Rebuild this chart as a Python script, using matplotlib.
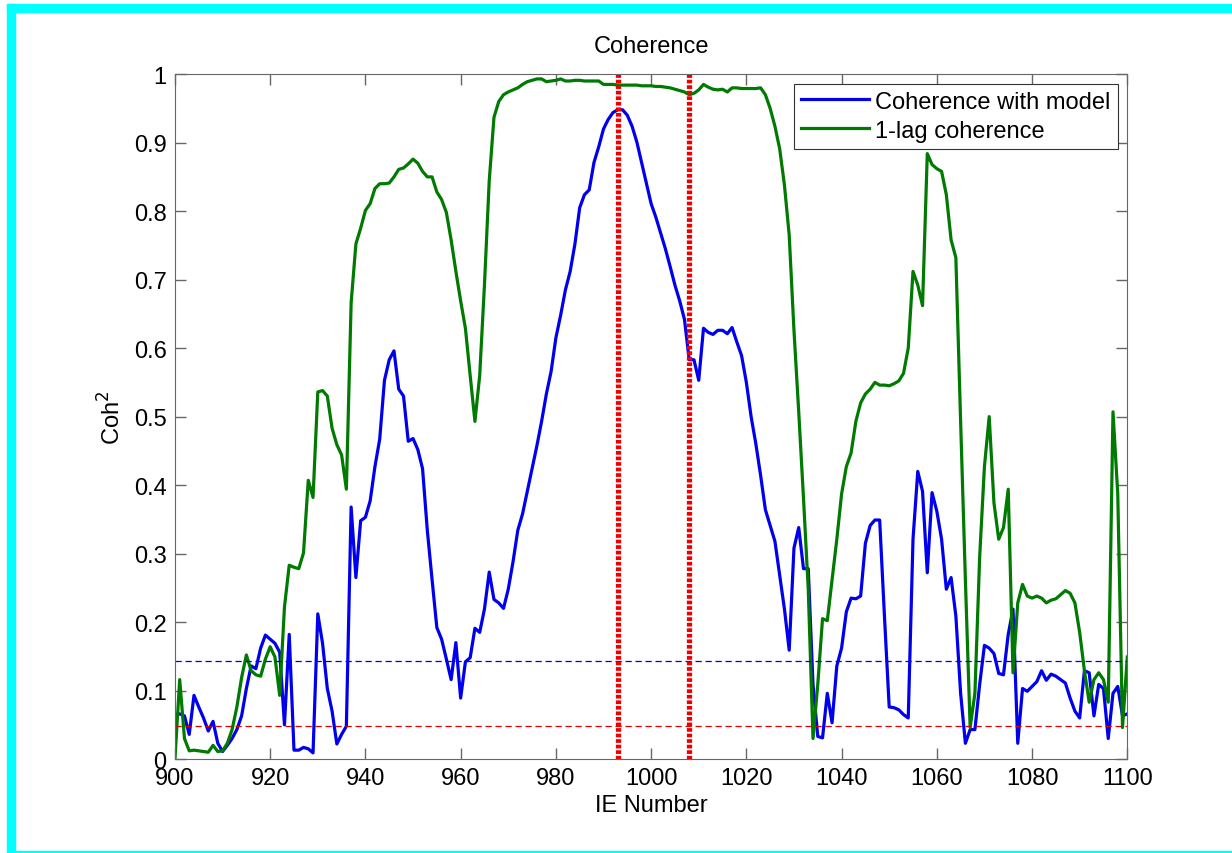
import matplotlib
matplotlib.use("Agg")
import matplotlib.pyplot as plt
from matplotlib.patches import Rectangle

plt.rcParams["font.family"] = ["Liberation Sans", "DejaVu Sans"]

ie_number = list(range(900, 1101))

coh_model = [
    0.065, 0.066, 0.063, 0.036, 0.093, 0.076, 0.060, 0.041, 0.055, 0.023,
    0.011, 0.020, 0.030, 0.043, 0.063, 0.103, 0.136, 0.132, 0.162, 0.181,
    0.175, 0.169, 0.156, 0.050, 0.182, 0.013, 0.013, 0.017, 0.015, 0.009,
    0.212, 0.169, 0.103, 0.070, 0.022, 0.036, 0.048, 0.368, 0.265, 0.348,
    0.353, 0.377, 0.427, 0.467, 0.553, 0.583, 0.596, 0.540, 0.530, 0.464,
    0.468, 0.452, 0.424, 0.334, 0.262, 0.192, 0.175, 0.146, 0.116, 0.170,
    0.089, 0.142, 0.148, 0.191, 0.185, 0.219, 0.273, 0.233, 0.228, 0.220,
    0.248, 0.288, 0.334, 0.358, 0.391, 0.424, 0.457, 0.493, 0.533, 0.566,
    0.615, 0.648, 0.685, 0.712, 0.752, 0.805, 0.824, 0.831, 0.871, 0.894,
    0.920, 0.934, 0.944, 0.948, 0.948, 0.940, 0.924, 0.901, 0.871, 0.841,
    0.811, 0.791, 0.768, 0.745, 0.719, 0.692, 0.669, 0.642, 0.583, 0.583,
    0.553, 0.629, 0.623, 0.620, 0.626, 0.626, 0.621, 0.630, 0.609, 0.589,
    0.550, 0.500, 0.460, 0.414, 0.364, 0.341, 0.318, 0.268, 0.219, 0.159,
    0.308, 0.338, 0.278, 0.278, 0.109, 0.033, 0.031, 0.096, 0.053, 0.136,
    0.162, 0.215, 0.235, 0.234, 0.238, 0.315, 0.341, 0.349, 0.349, 0.209,
    0.076, 0.075, 0.072, 0.065, 0.060, 0.321, 0.420, 0.391, 0.272, 0.389,
    0.362, 0.321, 0.248, 0.265, 0.209, 0.096, 0.023, 0.043, 0.043, 0.109,
    0.166, 0.162, 0.154, 0.125, 0.123, 0.182, 0.219, 0.023, 0.103, 0.099,
    0.106, 0.113, 0.129, 0.115, 0.124, 0.121, 0.116, 0.111, 0.089, 0.070,
    0.060, 0.129, 0.126, 0.063, 0.109, 0.103, 0.030, 0.096, 0.106, 0.063,
    0.066,
]

coh_lag1 = [
    0.000, 0.116, 0.030, 0.012, 0.013, 0.012, 0.011, 0.010, 0.020, 0.011,
    0.012, 0.023, 0.043, 0.076, 0.119, 0.152, 0.129, 0.123, 0.121, 0.146,
    0.164, 0.149, 0.093, 0.222, 0.283, 0.280, 0.278, 0.301, 0.407, 0.382,
    0.536, 0.538, 0.530, 0.483, 0.459, 0.444, 0.394, 0.666, 0.752, 0.775,
    0.801, 0.811, 0.833, 0.840, 0.840, 0.841, 0.850, 0.861, 0.863, 0.869,
    0.876, 0.870, 0.858, 0.850, 0.850, 0.828, 0.817, 0.798, 0.758, 0.712,
    0.669, 0.629, 0.560, 0.493, 0.560, 0.692, 0.844, 0.937, 0.960, 0.970,
    0.974, 0.977, 0.980, 0.985, 0.989, 0.991, 0.993, 0.993, 0.989, 0.990,
    0.991, 0.993, 0.990, 0.990, 0.991, 0.991, 0.990, 0.990, 0.990, 0.990,
    0.985, 0.985, 0.985, 0.984, 0.984, 0.984, 0.984, 0.984, 0.983, 0.983,
    0.983, 0.982, 0.982, 0.981, 0.980, 0.978, 0.976, 0.974, 0.970, 0.972,
    0.977, 0.985, 0.981, 0.978, 0.977, 0.978, 0.974, 0.980, 0.980, 0.979,
    0.979, 0.979, 0.979, 0.980, 0.970, 0.950, 0.924, 0.891, 0.838, 0.765,
    0.626, 0.507, 0.381, 0.248, 0.030, 0.109, 0.205, 0.202, 0.262, 0.321,
    0.387, 0.427, 0.447, 0.493, 0.520, 0.533, 0.540, 0.550, 0.546, 0.546,
    0.545, 0.548, 0.552, 0.563, 0.600, 0.712, 0.692, 0.662, 0.884, 0.868,
    0.862, 0.858, 0.824, 0.758, 0.732, 0.493, 0.262, 0.046, 0.096, 0.295,
    0.427, 0.500, 0.374, 0.321, 0.338, 0.394, 0.126, 0.228, 0.255, 0.238,
    0.235, 0.238, 0.235, 0.228, 0.232, 0.234, 0.240, 0.246, 0.242, 0.228,
    0.185, 0.129, 0.083, 0.116, 0.126, 0.116, 0.083, 0.507, 0.387, 0.046,
    0.149,
]

# significance levels and the marked window
sig_model = 0.143
sig_lag1 = 0.048
window_edges = [993, 1008]

fig = plt.figure(figsize=(12.32, 8.54), dpi=100)
ax = fig.add_axes([0.142, 0.110, 0.773, 0.802])

ax.plot(ie_number, coh_model, color="#0000ee", lw=2.3, label="Coherence with model")
ax.plot(ie_number, coh_lag1, color="#007a00", lw=2.3, label="1-lag coherence")
ax.axhline(sig_model, color="#0000ee", lw=0.9, ls=(0, (5, 3)))
ax.axhline(sig_lag1, color="#dd0000", lw=0.9, ls=(0, (5, 3)))
for xe in window_edges:
    ax.axvline(xe, color="#ee0000", lw=3.8, ls=(0, (0.7, 0.35)))

ax.set_xlim(900, 1100)
ax.set_ylim(0, 1)
ax.set_xticks(range(900, 1101, 20))
ax.set_yticks([i / 10 for i in range(11)])
ax.set_yticklabels(["0", "0.1", "0.2", "0.3", "0.4", "0.5", "0.6", "0.7", "0.8", "0.9", "1"])
ax.tick_params(direction="in", length=8, width=1, color="#666666", labelsize=17,
               top=True, right=True)
ax.tick_params(axis="x", pad=6)
ax.tick_params(axis="y", pad=6)
for s in ax.spines.values():
    s.set_color("#666666")

ax.set_title("Coherence", fontsize=17, pad=16)
ax.set_xlabel("IE Number", fontsize=17, labelpad=3)
ax.set_ylabel("Coh$^2$", fontsize=17, labelpad=6)

leg = ax.legend(loc="upper right", fontsize=17, frameon=True, fancybox=False,
                framealpha=1, edgecolor="#333333", borderaxespad=0.4,
                handlelength=2.9, handletextpad=0.25, borderpad=0.3, labelspacing=0.3)
leg.get_frame().set_linewidth(0.8)

# cyan frame around the figure
fig.patches.append(Rectangle((7 / 1232, 0), 8 / 1232, 1 - 5 / 854,
                             transform=fig.transFigure, color="#00ffff", zorder=0))
fig.patches.append(Rectangle((7 / 1232, 1 - 13 / 854), 1, 8 / 854,
                             transform=fig.transFigure, color="#00ffff", zorder=0))
fig.patches.append(Rectangle((7 / 1232, 0), 1, 2 / 854,
                             transform=fig.transFigure, color="#00ffff", zorder=0))

fig.savefig("out.png", dpi=100)
